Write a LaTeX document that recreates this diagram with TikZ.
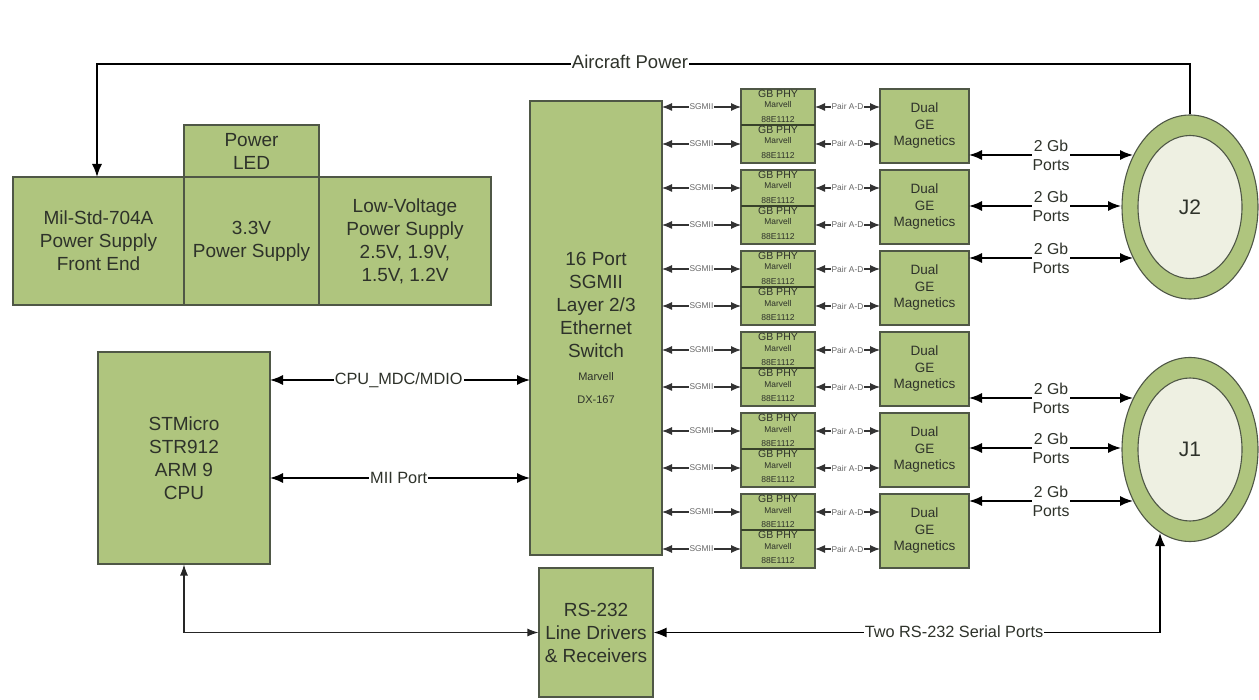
\documentclass[tikz,border=0pt]{standalone}
\usepackage{fontspec}
\setmainfont{Liberation Sans}
\usetikzlibrary{arrows.meta,shapes.geometric}
\definecolor{boxg}{HTML}{AFC57E}
\definecolor{lineg}{HTML}{4F5746}
\definecolor{innerc}{HTML}{EEF0E2}
\definecolor{txt}{HTML}{2E322A}
\definecolor{phydiv}{HTML}{38422A}
\tikzset{
 gbox/.style={draw=lineg,line width=1.1pt,fill=boxg,text=txt,align=center,inner sep=0pt,font=\fontsize{19}{23}\selectfont},
 wire/.style={draw=black,line width=1.5pt},
 dbl/.style={wire,{Latex[length=13pt,width=10pt]}-{Latex[length=13pt,width=10pt]}},
 smallarrow/.style={draw=black!80,line width=1.1pt,{Latex[length=10pt,width=8pt]}-{Latex[length=10pt,width=8pt]}},
 lab/.style={fill=white,inner sep=1pt,text=txt,font=\fontsize{16.3}{19}\selectfont,align=center},
 tinylab/.style={fill=white,inner sep=.6pt,text=black!60,font=\fontsize{8.4}{9}\selectfont},
}
\newcommand{\bx}[6]{\node[gbox,minimum width=#4pt-#2pt,minimum height=#5pt-#3pt,#6] at ({(#2+#4)/2},{(#3+#5)/2})}
\newcommand{\phybox}[3]{%
 \bx{}{741}{#2}{815}{#3}{}(#1){};
 \node[text=txt,font=\fontsize{10.5}{11}\selectfont,inner sep=0pt] at (778,#2+5) {GB PHY};
 \node[text=txt,font=\fontsize{8.4}{8}\selectfont,inner sep=0pt] at (778,#2+16) {Marvell};
 \node[text=txt,font=\fontsize{8.6}{8}\selectfont,inner sep=0pt] at (778,#2+31) {88E1112};
}
\begin{document}
\begin{tikzpicture}[x=1pt,y=-1pt]
\useasboundingbox (0,0) rectangle (1259,700);
\bx{}{13}{177}{184}{305}{}(pf){Mil-Std-704A\\Power Supply\\Front End};
\bx{}{184}{177}{319}{305}{}(p33){3.3V\\Power Supply};
\bx{}{319}{177}{491}{305}{}(plv){Low-Voltage\\Power Supply\\2.5V, 1.9V,\\1.5V, 1.2V};
\bx{}{184}{125}{319}{177}{}(led){Power\\LED};
\bx{}{98}{352}{270}{564}{}(cpu){STMicro\\STR912\\ARM 9\\CPU};
\bx{}{530}{101}{662}{555}{}(sw){16 Port\\SGMII\\Layer 2/3\\Ethernet\\Switch\\{\fontsize{11}{22}\selectfont Marvell}\\{\fontsize{11}{21}\selectfont DX-167}};
\bx{}{539}{568}{653}{697}{}(rs){RS-232\\Line Drivers\\\& Receivers};
\foreach \n/\y in {1/89,2/170,3/251,4/332,5/413,6/494}{
 \pgfmathtruncatemacro\ya{\y}
 \pgfmathtruncatemacro\yb{\y+36}
 \pgfmathtruncatemacro\yc{\y+74}
 \phybox{pa\n}{\ya}{\yb}
 \phybox{pb\n}{\yb}{\yc}
 \draw[draw=phydiv,line width=2pt] (741,\yb) -- (815,\yb);
 \bx{}{880}{\ya}{969}{\yc}{font=\fontsize{13.5}{16.5}\selectfont}(m\n){Dual\\GE\\Magnetics};
 \foreach \s/\dd in {pa/18,pb/55}{
  \pgfmathtruncatemacro\yy{\y+\dd}
  \coordinate (l) at (662,\yy); \coordinate (r) at (741,\yy);
  \draw[smallarrow] (l) -- (r) node[midway,tinylab]{SGMII};
  \coordinate (l) at (815,\yy); \coordinate (r) at (880,\yy);
  \draw[smallarrow] (l) -- (r) node[midway,tinylab]{Pair A-D};
 }
}
\foreach \nm/\y/\tt in {j2/207/J2,j1/449.5/J1}{
 \node[draw=lineg,line width=1.1pt,fill=boxg,ellipse,minimum width=136pt,minimum height=184pt,inner sep=0pt] (\nm o) at (1190,\y) {};
 \node[draw=lineg,line width=1.1pt,fill=innerc,ellipse,minimum width=104pt,minimum height=143pt,inner sep=0pt,text=txt,font=\fontsize{21}{23}\selectfont] (\nm i) at (1190,\y) {\tt};
}
% aircraft power
\coordinate (ap1) at (97,64); \coordinate (ap2) at (1190,64); \coordinate (ap3) at (97,177);
\draw[wire,-{Latex[length=13pt,width=10pt]}] (j2o.north) -- (ap2) -- (ap1) -- (ap3);
\node[lab,font=\fontsize{18.5}{20}\selectfont] (aplab) at (630,62) {Aircraft Power};
% CPU links
\coordinate (c1a) at (270,380); \coordinate (c1b) at (530,380);
\coordinate (c2a) at (270,478); \coordinate (c2b) at (530,478);
\draw[dbl] (c1a) -- (c1b) node[pos=.495,lab]{CPU\_MDC/MDIO};
\draw[dbl] (c2a) -- (c2b) node[pos=.495,lab]{MII Port};
% RS-232
\coordinate (rsl) at (184,632.5); \coordinate (cpub) at (184,564.5);
\draw[line width=1.1pt,black!85,{Latex[length=11pt,width=8pt]}-{Latex[length=11pt,width=8pt]}] (cpub) -- (rsl) -- (rs.west);
\coordinate (rsr) at (1160,632.5); \coordinate (j1b) at (1160,533);
\draw[wire,{Latex[length=13pt,width=10pt]}-{Latex[length=13pt,width=10pt]}] (rs.east) -- (rsr) -- (j1b);
\node[lab] (rslab) at (954,632) {Two RS-232 Serial Ports};
% ports
\foreach \y/\xe in {155/1133,206/1121,258/1133,398/1133,448/1121,501/1133}{
 \coordinate (pl) at (969,\y); \coordinate (pr) at (\xe,\y);
 \draw[dbl] (pl) -- (pr);
 \node[lab,font=\fontsize{15.8}{19}\selectfont] at (1051,\y) {2 Gb\\Ports};
}
\end{tikzpicture}
\end{document}
